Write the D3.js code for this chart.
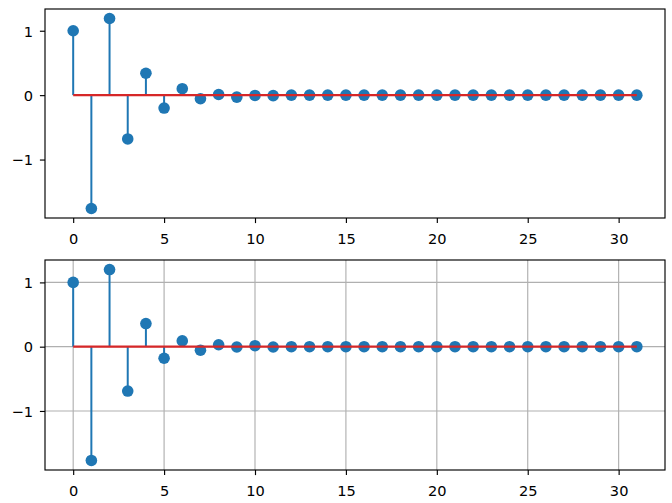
<!DOCTYPE html>
<html>
<head>
<meta charset="utf-8">
<script src="https://cdn.jsdelivr.net/npm/d3@7"></script>
<style>
  body { margin: 0; background: #fff; }
  svg { display: block; }
</style>
</head>
<body>
<div id="chart"></div>
<script>
// sample index 0..31
const samples = d3.range(32);

// impulse response
const responseTop = [
  1, -1.76, 1.19, -0.68, 0.34, -0.2, 0.1, -0.055, 0.01, -0.03,
  -0.005, -0.008, 0, 0, 0, 0, 0, 0, 0, 0,
  0, 0, 0, 0, 0, 0, 0, 0, 0, 0,
  0, 0,
];

// lower panel, nearly the same sequence
const responseBottom = [
  1, -1.77, 1.2, -0.69, 0.36, -0.18, 0.09, -0.055, 0.03, -0.005,
  0.015, -0.005, 0, 0, 0, 0, 0, 0, 0, 0,
  0, 0, 0, 0, 0, 0, 0, 0, 0, 0,
  0, 0,
];

const xTicks = [0, 5, 10, 15, 20, 25, 30];
const yTicks = [-1, 0, 1];

const width = 672;
const height = 503;
const left = 45;
const right = 665;
const fontSize = 14.6;
const tickLen = 5.1;
const fontFamily = '"DejaVu Sans", sans-serif';

const svg = d3.select('#chart')
  .append('svg')
  .attr('width', width)
  .attr('height', height);

const fmt = (d) => String(d).replace('-', '\u2212');

function drawStem(values, top, bottom, showGrid) {
  // matplotlib style 5% margins
  const xPad = (d3.max(samples) - d3.min(samples)) * 0.05;
  const x = d3.scaleLinear()
    .domain([d3.min(samples) - xPad, d3.max(samples) + xPad])
    .range([left, right]);

  const [lo, hi] = d3.extent(values);
  const yPad = (hi - lo) * 0.05;
  const y = d3.scaleLinear()
    .domain([lo - yPad, hi + yPad])
    .range([bottom, top]);

  const g = svg.append('g');

  if (showGrid) {
    g.append('g')
      .selectAll('line')
      .data(xTicks)
      .join('line')
      .attr('x1', (d) => x(d))
      .attr('x2', (d) => x(d))
      .attr('y1', top)
      .attr('y2', bottom)
      .attr('stroke', '#b0b0b0')
      .attr('stroke-width', 1.15);

    g.append('g')
      .selectAll('line')
      .data(yTicks)
      .join('line')
      .attr('x1', left)
      .attr('x2', right)
      .attr('y1', (d) => y(d))
      .attr('y2', (d) => y(d))
      .attr('stroke', '#b0b0b0')
      .attr('stroke-width', 1.15);
  }

  // stems
  g.append('g')
    .selectAll('line')
    .data(samples)
    .join('line')
    .attr('x1', (d) => x(d))
    .attr('x2', (d) => x(d))
    .attr('y1', y(0))
    .attr('y2', (d) => y(values[d]))
    .attr('stroke', '#1f77b4')
    .attr('stroke-width', 2);

  // markers
  g.append('g')
    .selectAll('circle')
    .data(samples)
    .join('circle')
    .attr('cx', (d) => x(d))
    .attr('cy', (d) => y(values[d]))
    .attr('r', 5.8)
    .attr('fill', '#1f77b4');

  // baseline sits on top of the markers
  g.append('line')
    .attr('x1', x(d3.min(samples)))
    .attr('x2', x(d3.max(samples)))
    .attr('y1', y(0))
    .attr('y2', y(0))
    .attr('stroke', '#d62728')
    .attr('stroke-width', 2.2);

  // axes
  const xAxis = d3.axisBottom(x)
    .tickValues(xTicks)
    .tickSize(tickLen)
    .tickSizeOuter(0)
    .tickFormat(fmt);
  const gx = g.append('g')
    .attr('transform', `translate(0,${bottom})`)
    .call(xAxis)
    .attr('font-family', fontFamily)
    .attr('font-size', fontSize);
  gx.select('.domain').remove();
  gx.selectAll('text')
    .attr('y', 26)
    .attr('dy', 0)
    .attr('fill', '#000');

  const yAxis = d3.axisLeft(y)
    .tickValues(yTicks)
    .tickSize(tickLen)
    .tickSizeOuter(0)
    .tickFormat(fmt);
  const gy = g.append('g')
    .attr('transform', `translate(${left},0)`)
    .call(yAxis)
    .attr('font-family', fontFamily)
    .attr('font-size', fontSize);
  gy.select('.domain').remove();
  gy.selectAll('text')
    .attr('x', -12)
    .attr('dy', '0.36em')
    .attr('fill', '#000');

  g.selectAll('.tick line')
    .attr('stroke', '#000')
    .attr('stroke-width', 1.15);

  // frame
  g.append('rect')
    .attr('x', left)
    .attr('y', top)
    .attr('width', right - left)
    .attr('height', bottom - top)
    .attr('fill', 'none')
    .attr('stroke', '#000')
    .attr('stroke-width', 1.15);
}

drawStem(responseTop, 9, 218, false);
drawStem(responseBottom, 260, 470, true);
</script>
</body>
</html>
